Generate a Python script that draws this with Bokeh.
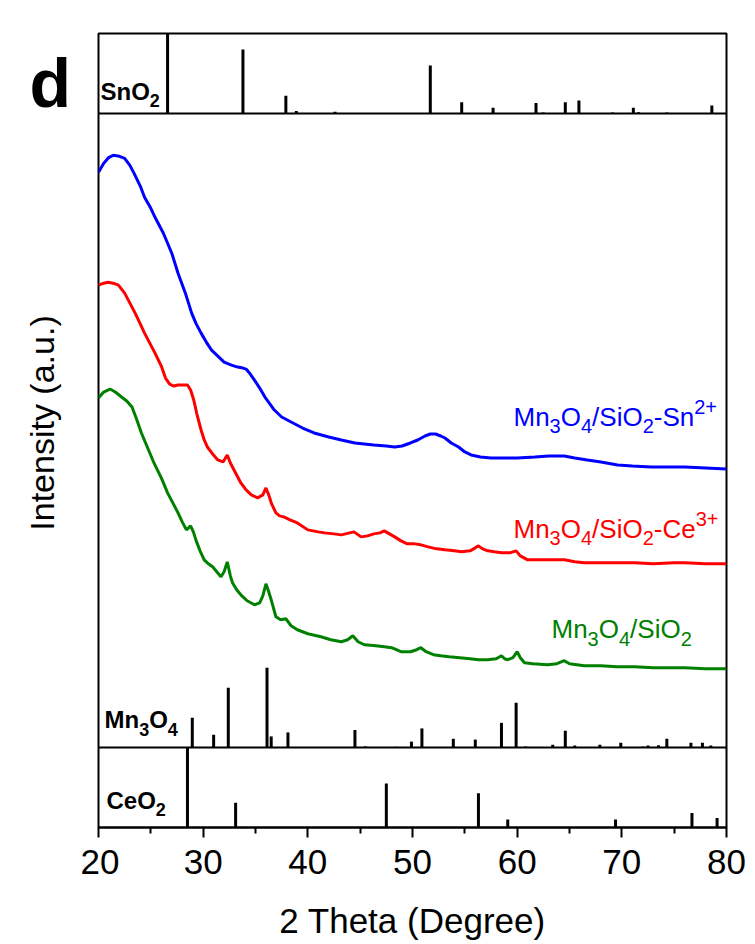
from math import pi
from bokeh.plotting import figure
from bokeh.layouts import row
from bokeh.models import Range1d, Span, Label, FixedTicker
from bokeh.embed import file_html
from bokeh.resources import INLINE

# ---------------- data ----------------
x_ticks = [20, 30, 40, 50, 60, 70, 80]
x_minor = [25, 35, 45, 55, 65, 75]

# reference sticks (2theta, relative intensity 0-100)
sno2_pos = [26.6, 33.8, 37.9, 38.9, 42.6, 51.7, 54.7, 57.7, 61.8, 62.5, 64.6, 65.9, 69.1, 71.1, 71.6, 74.3, 78.6]
sno2_int = [100, 80, 22, 3, 2, 60, 14, 7, 13, 1, 14, 16, 1, 7, 1.5, 1, 10]

mn3o4_pos = [28.96, 31.0, 32.4, 36.1, 36.5, 38.1, 44.5, 45.5, 48.4, 49.9, 50.9, 53.9, 56.0, 58.5, 59.9,
             60.8, 63.4, 64.6, 65.5, 67.9, 69.9, 72.0, 72.5, 73.5, 74.3, 76.6, 77.7, 78.5]
mn3o4_int = [37.5, 16, 75, 100, 14, 19, 22, 1.5, 1, 7.5, 24, 11, 10, 31, 56,
             1.5, 3.5, 21, 2.5, 3.5, 6, 1.5, 2.5, 3, 11, 6, 6, 2.5]

ceo2_pos = [28.5, 33.1, 47.5, 56.3, 59.1, 69.4, 76.7, 79.1]
ceo2_int = [100, 31, 55, 43, 10, 10, 18, 12]

# XRD curves (2theta, intensity a.u.)
sn_x = [20.0, 20.5, 21.0, 21.4, 22.0, 22.5, 23.0, 23.4, 24.0, 24.4, 25.0, 25.4, 26.2, 27.0, 27.6, 28.3,
        28.9, 29.3, 29.8, 30.3, 30.8, 31.4, 32.0, 32.7, 33.3, 33.8, 34.1, 34.5, 34.9, 35.4, 35.9, 36.8,
        37.5, 38.4, 39.5, 40.6, 42.0, 43.2, 44.5, 46.3, 47.5, 48.3, 49.0, 49.8, 50.5, 51.2, 51.7, 52.2,
        52.7, 53.1, 53.7, 54.4, 55.0, 55.6, 56.5, 57.5, 58.5, 60.0, 61.7, 63.0, 64.5, 65.5, 66.7, 68.0,
        69.6, 71.0, 72.8, 74.5, 76.0, 78.0, 80.0]
sn_y = [576, 585, 591, 593, 592, 590, 583, 575, 562, 551, 540, 531, 515, 495, 475, 455,
        435, 425, 415, 406, 398, 392, 386, 383, 381, 380, 379, 374, 368, 360, 351, 338,
        331, 326, 320, 315, 311, 308, 305, 303, 302, 301, 302, 305, 308, 312, 314, 314,
        312, 310, 305, 301, 296, 293, 291, 290, 290, 290, 291, 292, 292, 290, 288, 286,
        283, 282, 281, 281, 281, 280, 279]

ce_x = [20.0, 20.5, 20.9, 21.4, 21.9, 22.5, 23.0, 23.5, 24.0, 24.4, 25.0, 25.4, 26.0, 26.4, 26.8, 27.2,
        27.6, 28.0, 28.5, 28.8, 29.1, 29.4, 29.8, 30.1, 30.4, 30.9, 31.4, 31.9, 32.3, 32.6, 32.8, 33.2,
        33.6, 34.1, 34.6, 35.2, 35.7, 36.0, 36.3, 36.5, 36.95, 37.3, 37.7, 38.3, 39.0, 40.0, 41.0, 41.6,
        42.5, 43.2, 44.4, 45.1, 45.7, 46.3, 46.9, 47.3, 47.8, 48.3, 48.9, 49.5, 50.2, 50.8, 51.5, 52.3,
        53.1, 54.0, 54.7, 55.5, 56.0, 56.3, 56.7, 57.2, 57.8, 58.5, 59.3, 59.9, 60.3, 61.0, 62.0, 63.0,
        64.0, 64.5, 65.5, 66.4, 68.0, 70.0, 71.2, 73.0, 75.0, 76.0, 78.0, 80.0]
ce_y = [463, 465, 466, 465, 463, 455, 445, 435, 424, 415, 403, 395, 382, 370, 364, 362,
        363, 363, 363, 358, 348, 334, 318, 308, 301, 294, 288, 286, 293, 285, 281, 273,
        265, 258, 253, 250, 253, 260, 252, 245, 235, 232, 231, 228, 225, 218, 216, 215,
        214, 213, 216, 211, 212, 214, 215, 217, 214, 211, 207, 204, 204, 203, 201, 199,
        198, 197, 196, 197, 200, 202, 199, 197, 196, 195, 195, 197, 192, 188, 188, 188,
        188, 188, 186, 185, 185, 185, 185, 184, 185, 185, 184, 184]

mn_x = [20.0, 20.5, 21.1, 21.6, 22.2, 22.7, 23.2, 23.6, 24.1, 24.7, 25.3, 26.0, 26.6, 27.1, 27.6, 28.0,
        28.4, 28.8, 29.1, 29.3, 29.7, 30.1, 30.5, 30.9, 31.3, 31.7, 32.0, 32.3, 32.6, 32.8, 33.2, 33.6,
        34.2, 34.9, 35.4, 35.7, 36.0, 36.2, 36.5, 36.95, 37.4, 37.9, 38.4, 39.0, 40.0, 41.25, 42.2, 43.2,
        43.8, 44.3, 44.8, 45.4, 46.5, 47.3, 48.0, 48.9, 49.8, 50.4, 50.8, 51.3, 52.0, 52.7, 53.5, 54.5,
        55.5, 56.3, 57.2, 58.0, 58.5, 58.8, 59.1, 59.6, 60.0, 60.3, 60.7, 61.5, 62.9, 63.8, 64.5, 65.0,
        66.4, 68.0, 69.5, 71.2, 73.0, 75.0, 76.0, 78.0, 80.0]
mn_y = [350, 356, 359, 356, 351, 347, 341, 330, 315, 300, 285, 270, 255, 245, 235, 226,
        218, 222, 215, 208, 197, 188, 184, 181, 176, 171, 176, 186, 172, 165, 158, 153,
        147, 143, 145, 152, 164, 158, 148, 131, 128, 129, 122, 118, 114, 111, 108, 106,
        108, 112, 106, 103, 102, 101, 100, 96, 96, 98, 100, 96, 93, 92, 91, 90,
        89, 88, 88, 89, 92, 89, 88, 90, 96, 90, 85, 84, 83, 84, 87, 84,
        82, 82, 81, 81, 80, 80, 80, 79, 79]

# ---------------- layout constants (image pixels) ----------------
FONT = "Liberation Sans"
X_LEFT, X_RIGHT = 98, 726      # image x of 20 and 80 degrees
FRAME_TOP, FRAME_BOT = 33, 828
SEP1, SEP2 = 113, 748          # panel separators
STICK_H = 80                   # pixels for 100 % stick
W, H = 755, 942
LW = 80                        # width of the left strip (panel letter + y title)
MW = W - LW
BASE_FIX = 0.32                # measured baseline correction (fraction of font size)


def xd(px):
    return 20 + (px - X_LEFT) * 60.0 / (X_RIGHT - X_LEFT)


def yd(py):
    return SEP2 - py


def stick_range(base_px):
    k = 100.0 / STICK_H
    start = -(FRAME_BOT - base_px) * k
    return Range1d(start, start + (FRAME_BOT - FRAME_TOP) * k)


# ---------------- left strip (its frame is aligned with the main frame by the row) ----------------
left = figure(width=LW, height=H, x_range=Range1d(0, LW), y_range=Range1d(-FRAME_BOT, -FRAME_TOP),
              output_backend="svg", toolbar_location=None, x_axis_location=None, y_axis_location=None,
              min_border_left=0, min_border_right=0, min_border_top=0, min_border_bottom=0)
left.outline_line_color = None
left.xgrid.visible = False
left.ygrid.visible = False
left.background_fill_color = "white"
left.border_fill_color = "white"
left.add_layout(Label(x=29, y=-(104 - BASE_FIX * 68), text="d", text_font=FONT, text_font_size="68px",
                      text_font_style="bold", text_color="black", text_align="left", text_baseline="alphabetic"))
left.add_layout(Label(x=41, y=-423, text="Intensity (a.u.)", text_font=FONT, text_font_size="34px",
                      text_color="black", angle=pi / 2, text_align="center", text_baseline="middle"))

# ---------------- main figure ----------------
p = figure(width=MW, height=H, x_range=Range1d(20, 80),
           y_range=Range1d(yd(FRAME_BOT), yd(FRAME_TOP)),
           output_backend="svg", toolbar_location=None, y_axis_location=None,
           min_border_left=X_LEFT - LW, min_border_right=W - X_RIGHT,
           min_border_top=FRAME_TOP, min_border_bottom=H - FRAME_BOT)
p.xgrid.visible = False
p.ygrid.visible = False
p.outline_line_color = "black"
p.outline_line_width = 2
p.background_fill_color = "white"
p.border_fill_color = "white"

p.extra_y_ranges = {"sno2": stick_range(SEP1), "mn3o4": stick_range(SEP2), "ceo2": stick_range(FRAME_BOT)}

# x axis
ax = p.xaxis[0]
ax.ticker = FixedTicker(ticks=x_ticks, minor_ticks=x_minor)
ax.axis_line_width = 2
ax.major_tick_line_width = 2
ax.minor_tick_line_width = 2
ax.major_tick_in = 0
ax.major_tick_out = 10
ax.minor_tick_in = 0
ax.minor_tick_out = 6
ax.major_label_text_font = FONT
ax.major_label_text_font_size = "35px"
ax.major_label_text_color = "black"
ax.major_label_standoff = 12
ax.axis_label = "2 Theta (Degree)"
ax.axis_label_text_font = FONT
ax.axis_label_text_font_size = "35px"
ax.axis_label_text_font_style = "normal"
ax.axis_label_text_color = "black"
ax.axis_label_standoff = 24

# separators
for name in ("sno2", "mn3o4"):
    p.add_layout(Span(location=0, dimension="width", y_range_name=name, line_color="black", line_width=2))

# sticks
for pos, inten, name in ((sno2_pos, sno2_int, "sno2"), (mn3o4_pos, mn3o4_int, "mn3o4"), (ceo2_pos, ceo2_int, "ceo2")):
    p.segment(x0=pos, y0=[0] * len(pos), x1=pos, y1=inten, y_range_name=name,
              line_color="black", line_width=3)

# curves
p.line(sn_x, sn_y, line_color="#0000ff", line_width=3)
p.line(ce_x, ce_y, line_color="#ff0000", line_width=3)
p.line(mn_x, mn_y, line_color="#008000", line_width=3)

# ---------------- text helpers ----------------
W_REG = {'M': .833, 'n': .556, 'O': .778, '/': .278, 'S': .667, 'i': .222, '-': .333, 'C': .722, 'e': .556, '+': .584}
W_BOLD = {'M': .833, 'n': .611, 'O': .778, 'S': .667, 'C': .722, 'e': .556, '+': .584}


def twidth(s, size, bold):
    tab = W_BOLD if bold else W_REG
    return sum(tab.get(c, .556) for c in s) * size


def rich(x_img, base_img, parts, color, size, bold=False):
    small = round(size * 0.75)
    x = x_img
    for txt, kind in parts:
        fs = size if kind == "n" else small
        dy = 0 if kind == "n" else (size * 0.3 if kind == "sub" else -size * 0.45)
        p.add_layout(Label(x=xd(x), y=yd(base_img + dy - BASE_FIX * fs), text=txt, text_font=FONT,
                           text_font_size=f"{fs}px", text_color=color,
                           text_font_style="bold" if bold else "normal",
                           text_align="left", text_baseline="alphabetic"))
        x += twidth(txt, fs, bold)


rich(513, 425, [("Mn", "n"), ("3", "sub"), ("O", "n"), ("4", "sub"), ("/SiO", "n"), ("2", "sub"),
                ("-Sn", "n"), ("2+", "sup")], "#0000ff", 26)
rich(513, 537, [("Mn", "n"), ("3", "sub"), ("O", "n"), ("4", "sub"), ("/SiO", "n"), ("2", "sub"),
                ("-Ce", "n"), ("3+", "sup")], "#ff0000", 26)
rich(551, 638, [("Mn", "n"), ("3", "sub"), ("O", "n"), ("4", "sub"), ("/SiO", "n"), ("2", "sub")],
     "#008000", 26)

rich(100, 99, [("SnO", "n"), ("2", "sub")], "black", 24, bold=True)
rich(104, 728, [("Mn", "n"), ("3", "sub"), ("O", "n"), ("4", "sub")], "black", 24, bold=True)
rich(106, 809, [("CeO", "n"), ("2", "sub")], "black", 24, bold=True)

open("out.html", "w").write(file_html(row(left, p), INLINE))
